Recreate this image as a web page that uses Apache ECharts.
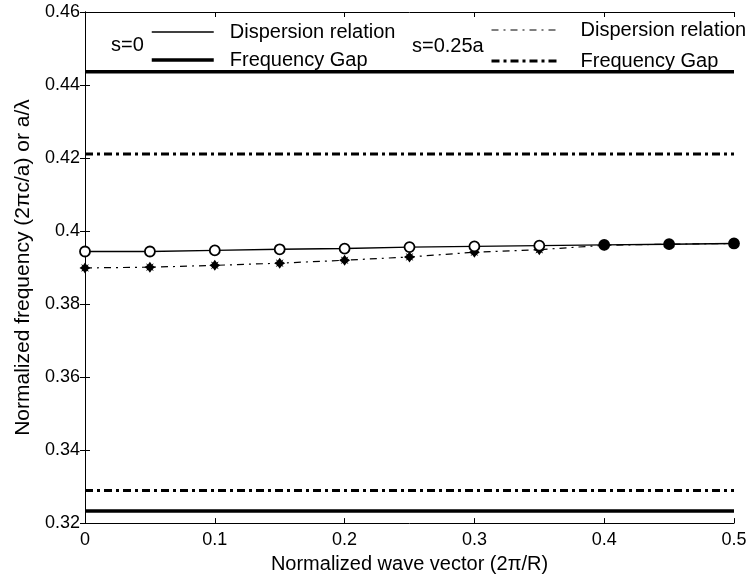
<!DOCTYPE html>
<html>
<head>
<meta charset="utf-8">
<script src="https://cdn.jsdelivr.net/npm/echarts@6/dist/echarts.min.js"></script>
<style>
html,body{margin:0;padding:0;background:#fff;}
#chart{width:750px;height:579px;}
</style>
</head>
<body>
<div id="chart"></div>
<script>
// ---- data ----
var waveVector = [0, 0.05, 0.1, 0.15, 0.2, 0.25, 0.3, 0.35, 0.4, 0.45, 0.5];
var freqS0 = [0.3944, 0.3944, 0.3947, 0.3950, 0.3952, 0.3956, 0.3958, 0.3960, 0.3962, 0.3964, 0.3966];
var freqS025 = [0.3899, 0.3901, 0.3906, 0.3912, 0.3920, 0.3929, 0.3942, 0.3949, 0.3961, 0.3964, 0.3966];
var gapS0 = [0.3233, 0.4436];
var gapS025 = [0.3289, 0.4211];
var xTicks = [0, 0.1, 0.2, 0.3, 0.4, 0.5];
var yTicks = [0.32, 0.34, 0.36, 0.38, 0.40, 0.42, 0.44, 0.46];
var labelS0 = 's=0';
var labelS025 = 's=0.25a';
var legendNames = {disp0: 'Dispersion relation', gap0: 'Frequency Gap', disp25: 'Dispersion relation', gap25: 'Frequency Gap'};
var xTitle = 'Normalized wave vector (2\u03c0/R)';
var yTitle = 'Normalized frequency (2\u03c0c/a) or a/\u03bb';

var FONT = '"Liberation Sans", Arial, Helvetica, sans-serif';
var starPath = 'path://M0,-10 L3.5,-5 L7,-7 L5,-3.5 L10,0 L5,3.5 L7,7 L3.5,5 L0,10 L-3.5,5 L-7,7 L-5,3.5 L-10,0 L-5,-3.5 L-7,-7 L-3.5,-5 Z';

var GAP0_STYLE = {color: '#000', width: 3.5, type: 'solid'};
var GAP25_STYLE = {color: '#000', width: 3, type: [8, 4, 3, 4]};
var DISP0_STYLE = {color: '#000', width: 1.4, type: 'solid'};
var DISP25_STYLE = {color: '#000', width: 1.2, type: [7, 5, 2, 5]};

function pairs(xs, ys) { return xs.map(function (x, i) { return [x, ys[i]]; }); }
function hline(v) { return [[xTicks[0], v], [xTicks[xTicks.length - 1], v]]; }

var chart = echarts.init(document.getElementById('chart'), null, {renderer: 'canvas'});

var axisLine = {show: true, lineStyle: {color: '#000', width: 1}};
var tickStyle = {show: true, inside: true, length: 5, lineStyle: {color: '#000', width: 1}};

var series = [];
gapS0.forEach(function (v) {
  series.push({name: 'gap0', type: 'line', data: hline(v), symbol: 'none', silent: true,
    lineStyle: GAP0_STYLE, z: 2});
});
gapS025.forEach(function (v) {
  series.push({name: 'gap25', type: 'line', data: hline(v), symbol: 'none', silent: true,
    lineStyle: GAP25_STYLE, z: 2});
});
series.push({name: 'disp25', type: 'line', data: pairs(waveVector, freqS025),
  symbol: starPath, symbolSize: 11,
  itemStyle: {color: '#000', borderWidth: 0},
  lineStyle: DISP25_STYLE, z: 3});
series.push({name: 'disp0', type: 'line', data: pairs(waveVector, freqS0),
  symbol: 'circle', symbolSize: 10,
  itemStyle: {
    color: function (p) { return p.dataIndex >= 8 ? '#000' : '#fff'; },
    borderColor: '#000', borderWidth: 1.8
  },
  lineStyle: DISP0_STYLE, z: 4});

var legendCommon = {
  orient: 'vertical', itemHeight: 14, itemGap: 8, padding: 0,
  selectedMode: false,
  itemStyle: {opacity: 0},
  textStyle: {fontFamily: FONT, fontSize: 20, color: '#000'},
  formatter: function (n) { return legendNames[n]; }
};

chart.setOption({
  animation: false,
  backgroundColor: '#fff',
  grid: {left: 85, right: 16, top: 12, bottom: 52, containLabel: false},
  xAxis: [{
    type: 'value', min: xTicks[0], max: xTicks[xTicks.length - 1], interval: 0.1,
    axisLine: axisLine, axisTick: tickStyle, splitLine: {show: false},
    axisLabel: {color: '#000', fontFamily: FONT, fontSize: 18, margin: 8,
      formatter: function (v) { return String(+v.toFixed(2)); }},
    name: xTitle, nameLocation: 'middle', nameGap: 24,
    nameTextStyle: {color: '#000', fontFamily: FONT, fontSize: 20}
  }, {
    type: 'value', position: 'top', min: xTicks[0], max: xTicks[xTicks.length - 1], interval: 0.1,
    axisLine: axisLine, axisTick: tickStyle, axisLabel: {show: false}, splitLine: {show: false}
  }],
  yAxis: [{
    type: 'value', min: yTicks[0], max: yTicks[yTicks.length - 1], interval: 0.02,
    axisLine: axisLine, axisTick: tickStyle, splitLine: {show: false},
    axisLabel: {color: '#000', fontFamily: FONT, fontSize: 18, margin: 5,
      formatter: function (v) { return String(+v.toFixed(2)); }},
    name: yTitle, nameLocation: 'middle', nameGap: 51,
    nameTextStyle: {color: '#000', fontFamily: FONT, fontSize: 21}
  }, {
    type: 'value', position: 'right', min: yTicks[0], max: yTicks[yTicks.length - 1], interval: 0.02,
    axisLine: axisLine, axisTick: tickStyle, axisLabel: {show: false}, splitLine: {show: false}
  }],
  legend: [
    Object.assign({}, legendCommon, {left: 150, top: 22, itemWidth: 62,
      data: [{name: 'disp0', lineStyle: {width: 1.4}}, {name: 'gap0', lineStyle: {width: 3.5}}],
      textStyle: Object.assign({}, legendCommon.textStyle, {padding: [0, 0, 0, 11]})}),
    Object.assign({}, legendCommon, {left: 490, top: 20, itemWidth: 65, itemGap: 11,
      data: [{name: 'disp25', lineStyle: {width: 1.2}}, {name: 'gap25', lineStyle: {width: 3}}],
      textStyle: Object.assign({}, legendCommon.textStyle, {padding: [0, 0, 0, 19]})})
  ],
  graphic: [
    {type: 'text', left: 111, top: 35, style: {text: labelS0, font: '20px ' + FONT, fill: '#000'}},
    {type: 'text', left: 412, top: 36, style: {text: labelS025, font: '20px ' + FONT, fill: '#000'}}
  ],
  series: series
});
</script>
</body>
</html>
